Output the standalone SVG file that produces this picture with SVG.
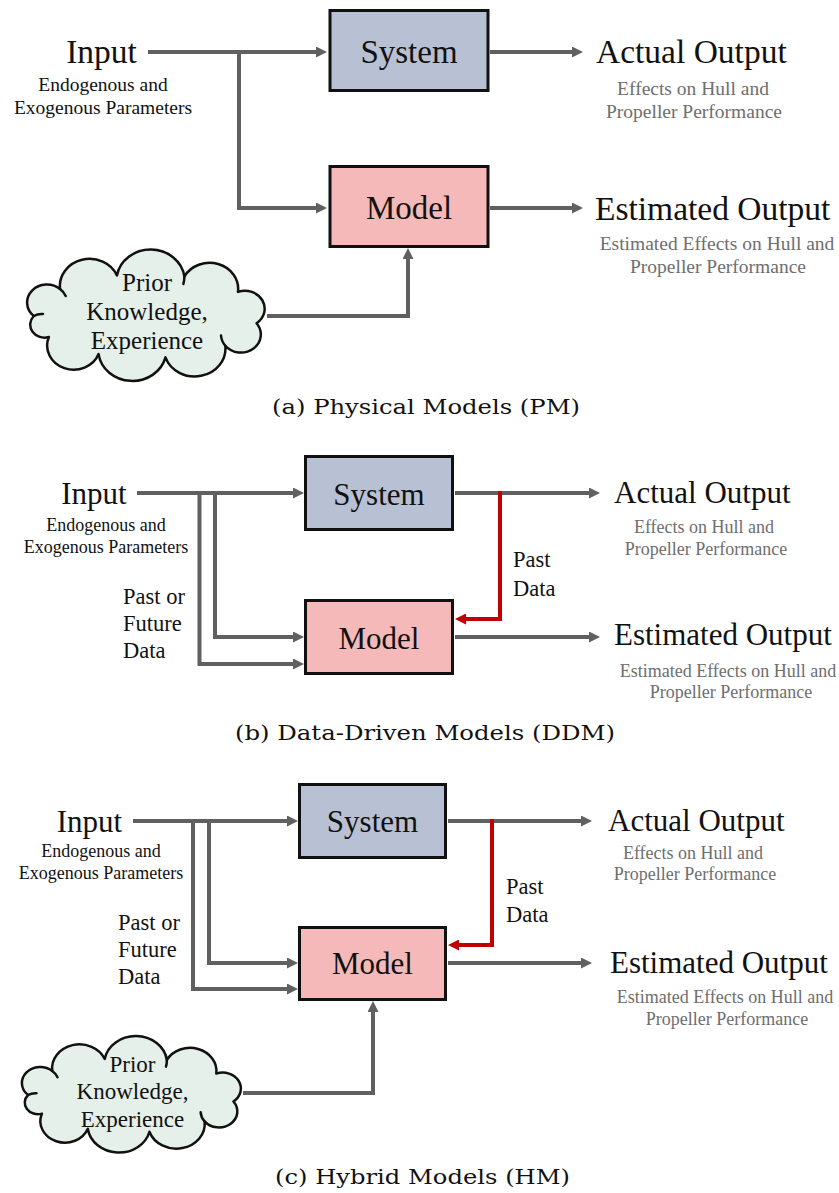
<svg xmlns="http://www.w3.org/2000/svg" width="839" height="1193" viewBox="0 0 839 1193">
<style>
.bg{fill:#ffffff}
.sys{fill:#b8c1d3;stroke:#111;stroke-width:3}
.mod{fill:#f4b9b8;stroke:#111;stroke-width:3}
.cloud{fill:#e5f0ea;stroke:#111;stroke-width:2.5;stroke-linejoin:round}
.curl{fill:none;stroke:#111;stroke-width:2.5;stroke-linecap:round}
.ln{fill:none;stroke:#606060;stroke-width:4;stroke-linejoin:miter}
.red{fill:none;stroke:#c00000;stroke-width:4;stroke-linejoin:miter}
.t{font-family:"Liberation Serif","Times New Roman",serif;fill:#111}
.s{font-family:"Liberation Serif","Times New Roman",serif;fill:#6e6e6e;text-anchor:middle}
.c{font-family:"DejaVu Serif","Liberation Serif",serif;fill:#111;font-size:20px;text-anchor:middle}
.mid{text-anchor:middle}
</style>
<defs>
<marker id="ah" viewBox="0 0 11 11" markerWidth="11" markerHeight="11" refX="1" refY="5.5" orient="auto" markerUnits="userSpaceOnUse"><path d="M0,0 L11,5.5 L0,11 z" fill="#606060"/></marker>
<marker id="ahr" viewBox="0 0 11 11" markerWidth="11" markerHeight="11" refX="1" refY="5.5" orient="auto" markerUnits="userSpaceOnUse"><path d="M0,0 L11,5.5 L0,11 z" fill="#c00000"/></marker>
<path id="cloudshape" vector-effect="non-scaling-stroke" d="M-102,0 A18,18 0 0 1 -78.1,-27 A27,27 0 0 1 -26.4,-40.6 A31,31 0 0 1 34.9,-39.5 A26,26 0 0 1 83.6,-24.1 A18,18 0 0 1 100.5,7.3 A18,18 0 0 1 72.1,29.7 A28,28 0 0 1 17.7,41.4 A31,31 0 0 1 -43.1,38.1 A24,24 0 0 1 -88.3,21 A13,13 0 0 1 -102,0 Z"/>
<path id="cloudcurls" vector-effect="non-scaling-stroke" d="M34.9,-39.5 A31,31 0 0 1 34,-32 M72.1,29.7 A18,18 0 0 1 68.2,19.5 M-102,0 A13,13 0 0 1 -93.6,-2 M-78.1,-27 A18,18 0 0 1 -73,-20"/>
</defs>
<rect class="bg" x="0" y="0" width="839" height="1193"/>

<!-- Panel (a) -->
<g id="a-connectors">
<path class="ln" d="M148,52 H317" marker-end="url(#ah)"/>
<path class="ln" d="M239,52 V208 H317" marker-end="url(#ah)"/>
<path class="ln" d="M490,52 H573" marker-end="url(#ah)"/>
<path class="ln" d="M490,208 H573" marker-end="url(#ah)"/>
<path class="ln" d="M267,316 H408 V258" marker-end="url(#ah)"/>
</g>
<g id="a-input">
<text class="t mid" x="101.5" y="63" font-size="33.5">Input</text>
<text class="t mid" x="103" y="91" font-size="19.5">Endogenous and</text>
<text class="t mid" x="103" y="114" font-size="19.5">Exogenous Parameters</text>
</g>
<g id="a-system">
<rect class="sys" x="330" y="10.5" width="158" height="80"/>
<text class="t mid" x="409" y="63" font-size="33">System</text>
</g>
<g id="a-model">
<rect class="mod" x="330" y="166.5" width="158" height="80"/>
<text class="t mid" x="409" y="219" font-size="33">Model</text>
</g>
<g id="a-actual">
<text class="t" x="596" y="63" font-size="33.5">Actual Output</text>
<text class="s" x="693" y="95" font-size="19.5">Effects on Hull and</text>
<text class="s" x="694" y="118" font-size="19.5">Propeller Performance</text>
</g>
<g id="a-estimated">
<text class="t" x="595" y="220" font-size="33.5">Estimated Output</text>
<text class="s" x="717" y="250" font-size="19.5">Estimated Effects on Hull and</text>
<text class="s" x="718" y="273" font-size="19.5">Propeller Performance</text>
</g>
<g id="a-cloud">
<g transform="translate(146,316) scale(1.1,1)">
<use href="#cloudshape" class="cloud"/>
<use href="#cloudcurls" class="curl"/>
</g>
<text class="t mid" x="147" y="291" font-size="25">Prior</text>
<text class="t mid" x="147" y="320" font-size="25">Knowledge,</text>
<text class="t mid" x="147" y="349" font-size="25">Experience</text>
</g>
<text id="cap-a" class="c" x="426" y="414" textLength="308" lengthAdjust="spacingAndGlyphs">(a) Physical Models (PM)</text>

<!-- Panel (b) -->
<g id="b-connectors">
<path class="ln" d="M137,493 H294" marker-end="url(#ah)"/>
<path class="ln" d="M199.5,493 V664 H294" marker-end="url(#ah)"/>
<path class="ln" d="M215,493 V637 H294" marker-end="url(#ah)"/>
<path class="ln" d="M455,493 H590" marker-end="url(#ah)"/>
<path class="ln" d="M455,637 H590" marker-end="url(#ah)"/>
<path class="red" d="M500,491 V619 H465" marker-end="url(#ahr)"/>
</g>
<g id="b-input">
<text class="t mid" x="94" y="504" font-size="31">Input</text>
<text class="t mid" x="106" y="531" font-size="18">Endogenous and</text>
<text class="t mid" x="106" y="553" font-size="18">Exogenous Parameters</text>
</g>
<g id="b-pastfuture">
<text class="t" x="123" y="604" font-size="22.5">Past or</text>
<text class="t" x="123" y="631" font-size="22.5">Future</text>
<text class="t" x="123" y="658" font-size="22.5">Data</text>
</g>
<g id="b-system">
<rect class="sys" x="305.5" y="456.5" width="147" height="73"/>
<text class="t mid" x="379" y="505" font-size="31">System</text>
</g>
<g id="b-model">
<rect class="mod" x="305.5" y="600.5" width="147" height="73"/>
<text class="t mid" x="379" y="649" font-size="31">Model</text>
</g>
<g id="b-pastdata">
<text class="t" x="513" y="567" font-size="22.5">Past</text>
<text class="t" x="513" y="596" font-size="22.5">Data</text>
</g>
<g id="b-actual">
<text class="t" x="614" y="503" font-size="31">Actual Output</text>
<text class="s" x="704" y="533" font-size="18">Effects on Hull and</text>
<text class="s" x="706" y="555" font-size="18">Propeller Performance</text>
</g>
<g id="b-estimated">
<text class="t" x="614" y="645" font-size="31">Estimated Output</text>
<text class="s" x="728" y="677" font-size="18">Estimated Effects on Hull and</text>
<text class="s" x="731" y="698" font-size="18">Propeller Performance</text>
</g>
<text id="cap-b" class="c" x="425" y="740" textLength="380" lengthAdjust="spacingAndGlyphs">(b) Data-Driven Models (DDM)</text>

<!-- Panel (c) -->
<g id="c-connectors">
<path class="ln" d="M133,821 H288" marker-end="url(#ah)"/>
<path class="ln" d="M193,821 V989 H288" marker-end="url(#ah)"/>
<path class="ln" d="M209,821 V963 H288" marker-end="url(#ah)"/>
<path class="ln" d="M448,821 H582" marker-end="url(#ah)"/>
<path class="ln" d="M448,963 H582" marker-end="url(#ah)"/>
<path class="red" d="M492,819 V945 H458" marker-end="url(#ahr)"/>
<path class="ln" d="M243,1093 H373 V1011" marker-end="url(#ah)"/>
</g>
<g id="c-input">
<text class="t mid" x="89.5" y="832" font-size="31">Input</text>
<text class="t mid" x="101" y="857" font-size="18">Endogenous and</text>
<text class="t mid" x="101" y="879" font-size="18">Exogenous Parameters</text>
</g>
<g id="c-pastfuture">
<text class="t" x="118" y="930" font-size="22.5">Past or</text>
<text class="t" x="118" y="957" font-size="22.5">Future</text>
<text class="t" x="118" y="984" font-size="22.5">Data</text>
</g>
<g id="c-system">
<rect class="sys" x="299.5" y="784.5" width="146" height="73"/>
<text class="t mid" x="372.5" y="832" font-size="31">System</text>
</g>
<g id="c-model">
<rect class="mod" x="299.5" y="927.5" width="146" height="72"/>
<text class="t mid" x="372.5" y="974" font-size="31">Model</text>
</g>
<g id="c-pastdata">
<text class="t" x="506" y="894" font-size="22.5">Past</text>
<text class="t" x="506" y="922" font-size="22.5">Data</text>
</g>
<g id="c-actual">
<text class="t" x="608" y="831" font-size="31">Actual Output</text>
<text class="s" x="693" y="859" font-size="18">Effects on Hull and</text>
<text class="s" x="695" y="880" font-size="18">Propeller Performance</text>
</g>
<g id="c-estimated">
<text class="t" x="610" y="973" font-size="31">Estimated Output</text>
<text class="s" x="725" y="1003" font-size="18">Estimated Effects on Hull and</text>
<text class="s" x="727" y="1025" font-size="18">Propeller Performance</text>
</g>
<g id="c-cloud">
<g transform="translate(131.5,1095) scale(1.014,0.887)">
<use href="#cloudshape" class="cloud"/>
<use href="#cloudcurls" class="curl"/>
</g>
<text class="t mid" x="132.5" y="1072" font-size="23">Prior</text>
<text class="t mid" x="132.5" y="1099" font-size="23">Knowledge,</text>
<text class="t mid" x="132.5" y="1127" font-size="23">Experience</text>
</g>
<text id="cap-c" class="c" x="422.5" y="1184" textLength="295" lengthAdjust="spacingAndGlyphs">(c) Hybrid Models (HM)</text>
</svg>
